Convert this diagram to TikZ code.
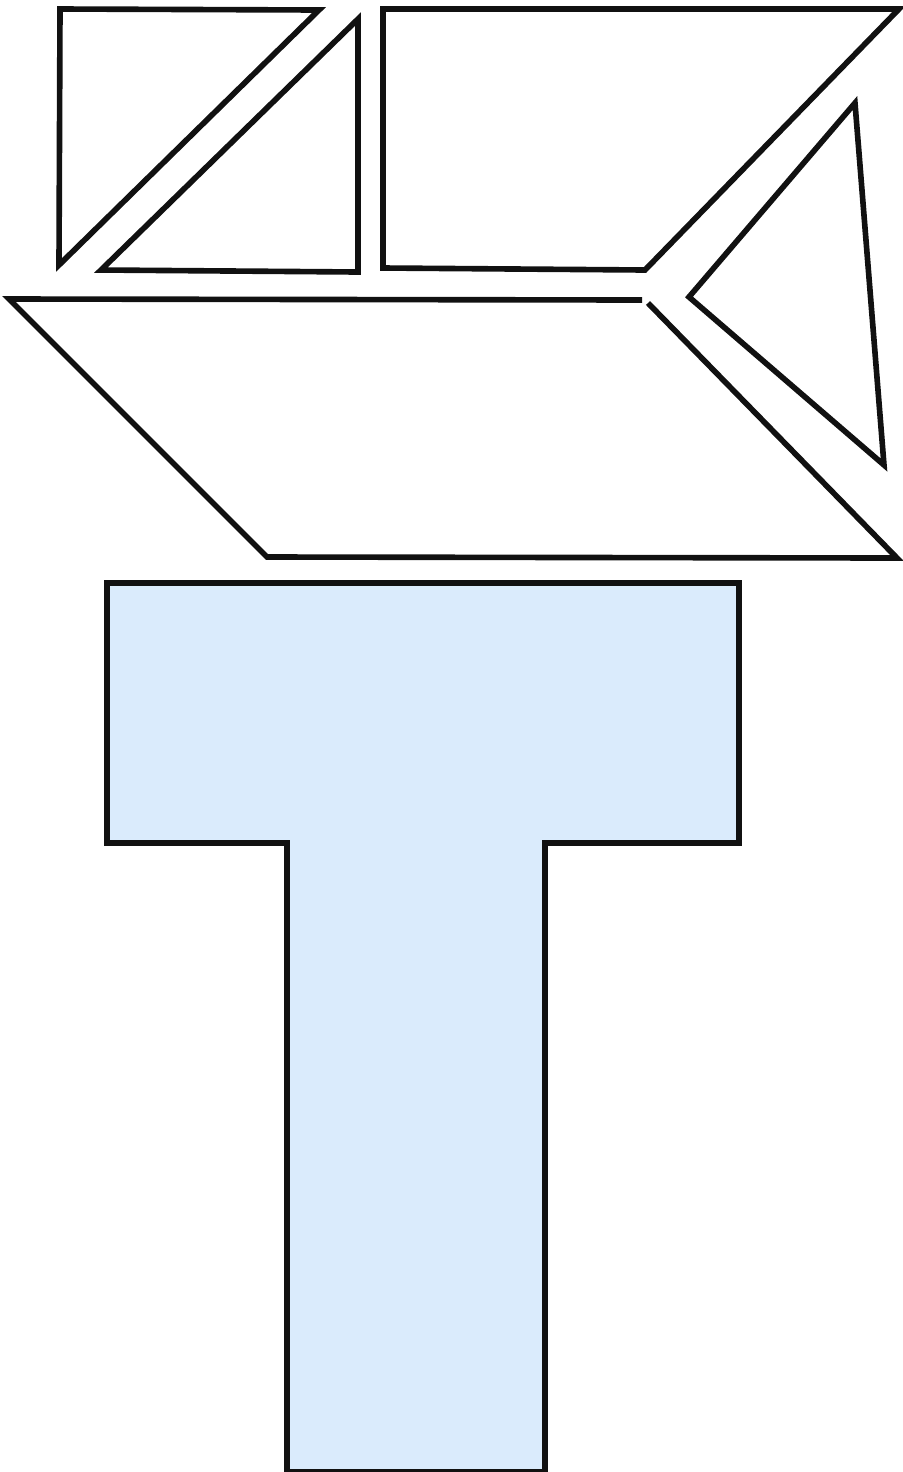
\documentclass[tikz,border=0pt]{standalone}
\definecolor{edge}{HTML}{111111}
\definecolor{lblue}{HTML}{DAEBFC}
\tikzset{
  piece/.style={draw=edge, line width=3.2pt, line join=miter, fill=white},
  tee/.style={piece, fill=lblue},
}
\begin{document}
\begin{tikzpicture}[x=0.02cm,y=-0.02cm]
  \useasboundingbox (0,0) rectangle (903,1472);
  % --- tangram pieces ---
  \draw[piece] (60,9) -- (319,10) -- (59,265) -- cycle;
  \draw[piece] (358,19) -- (358,272) -- (101,270) -- cycle;
  \draw[piece] (383,9) -- (899,9) -- (645,270) -- (383,268) -- cycle;
  \draw[piece] (855,103) -- (884,465) -- (689,297) -- cycle;
  \draw[piece] (648,303) -- (897,558) -- (267,557) -- (9,299) -- (642,300);
  % --- target T ---
  \draw[tee] (107,583) -- (739,583) -- (739,843) -- (545,843) -- (545,1472)
    -- (287,1472) -- (287,843) -- (107,843) -- cycle;
\end{tikzpicture}
\end{document}
